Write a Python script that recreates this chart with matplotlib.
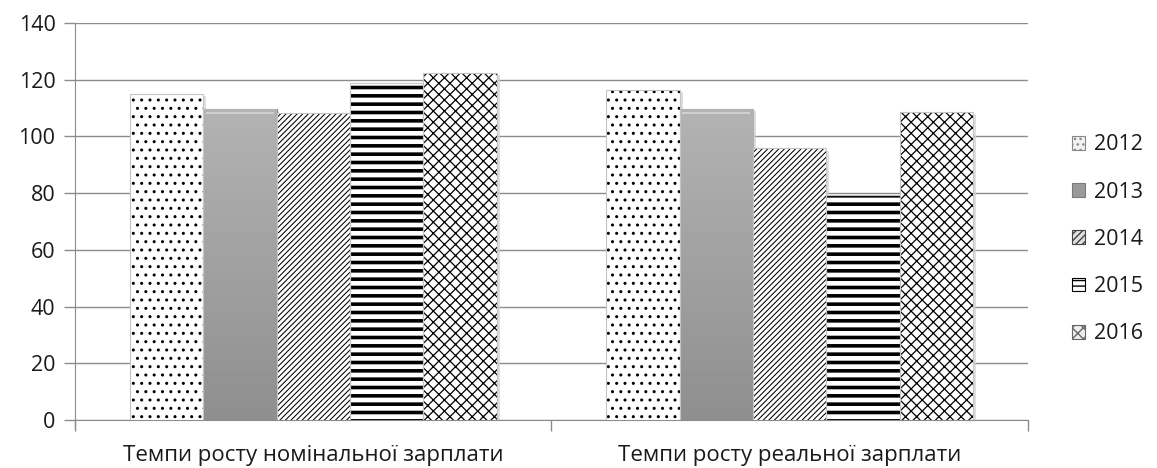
import matplotlib
matplotlib.use("Agg")
import matplotlib.pyplot as plt
from matplotlib.patches import Patch
import numpy as np

categories = ["Темпи росту номінальної зарплати", "Темпи росту реальної зарплати"]
years = ["2012", "2013", "2014", "2015", "2016"]
v2012 = [115.0, 116.3]
v2013 = [109.7, 109.7]
v2014 = [108.3, 95.8]
v2015 = [118.9, 79.5]
v2016 = [122.5, 108.5]
series = [v2012, v2013, v2014, v2015, v2016]

plt.rcParams['font.family'] = ['Open Sans', 'DejaVu Sans']

fig = plt.figure(figsize=(11.57, 4.68), dpi=100)
ax = fig.add_axes([0.0648, 0.1026, 0.8237, 0.8483])

x = np.arange(len(categories))
width = 0.154
offsets = (np.arange(len(years)) - 2) * width

hatches = ['..', None, '//////', '--', 'xxx']
hatch_lw = [1.0, None, 0.75, 2.6, 0.9]
grid_col = '#8c8c8c'

for i, vals in enumerate(series):
    xs = x + offsets[i]
    # soft shadow behind each bar
    ax.bar(xs + 0.006, vals, width, bottom=-0.8, color='#d0d0d0', alpha=0.7,
           linewidth=0, zorder=2)
    if i == 1:
        bars = ax.bar(xs, vals, width, color='#a8a8a8', edgecolor='#8a8a8a',
                      linewidth=0.8, zorder=3)
        # vertical grey gradient clipped to each bar
        grad = np.linspace(0.70, 0.56, 100).reshape(-1, 1)
        for b in bars:
            x0, h = b.get_x(), b.get_height()
            im = ax.imshow(grad, extent=[x0, x0 + width, 0, h], cmap='gray',
                           vmin=0, vmax=1, aspect='auto', origin='upper', zorder=3.5)
            im.set_clip_path(b)
            ax.plot([x0 + 0.008, x0 + width - 0.008], [h - 1.6, h - 1.6],
                    color='#cfcfcf', lw=1.5, zorder=4)
    else:
        bars = ax.bar(xs, vals, width, color='white', edgecolor='black',
                      hatch=hatches[i], linewidth=0, zorder=3)
        for b in bars:
            b.set_hatch_linewidth(hatch_lw[i])
        ax.bar(xs, vals, width, fill=False, edgecolor='#c4c4c4', linewidth=0.8, zorder=4)

ax.set_xlim(-0.5, 1.5)
ax.set_ylim(0, 140)
ax.set_yticks(np.arange(0, 141, 20))
ax.yaxis.grid(True, color=grid_col, linewidth=1.0)
ax.set_axisbelow(True)

for s in ['top', 'right']:
    ax.spines[s].set_visible(False)
ax.spines['left'].set_color(grid_col)
ax.spines['bottom'].set_color(grid_col)
ax.spines['left'].set_bounds(-3, 140)

ax.set_xticks([-0.5, 0.5, 1.5], minor=False)
ax.set_xticklabels([])
ax.set_xticks(x, minor=True)
ax.set_xticklabels(categories, minor=True, fontsize=16, color='#1a1a1a')
ax.tick_params(axis='x', which='major', length=8, color=grid_col, width=1)
ax.tick_params(axis='x', which='minor', length=0, pad=18)
ax.tick_params(axis='y', length=8, color=grid_col, width=1, labelsize=15.5,
               labelcolor='#1a1a1a', pad=6)

# small legend keys
leg_handles = [
    Patch(facecolor='#f2f2f2', edgecolor='#888888', hatch='...', linewidth=0.8),
    Patch(facecolor='#9a9a9a', edgecolor='#7a7a7a', linewidth=0.8),
    Patch(facecolor='#e0e0e0', edgecolor='#444444', hatch='/////', linewidth=0.8),
    Patch(facecolor='white', edgecolor='black', hatch='---', linewidth=0.8),
    Patch(facecolor='#eeeeee', edgecolor='#666666', hatch='xxx', linewidth=0.8),
]
leg = ax.legend(leg_handles, years, loc='center left', bbox_to_anchor=(1.035, 0.455),
                frameon=False, fontsize=15.5, handlelength=0.6, handleheight=0.6,
                handletextpad=0.4, labelspacing=1.22, borderpad=0)
for t in leg.get_texts():
    t.set_color('#1a1a1a')

fig.savefig("out.png", dpi=100)
